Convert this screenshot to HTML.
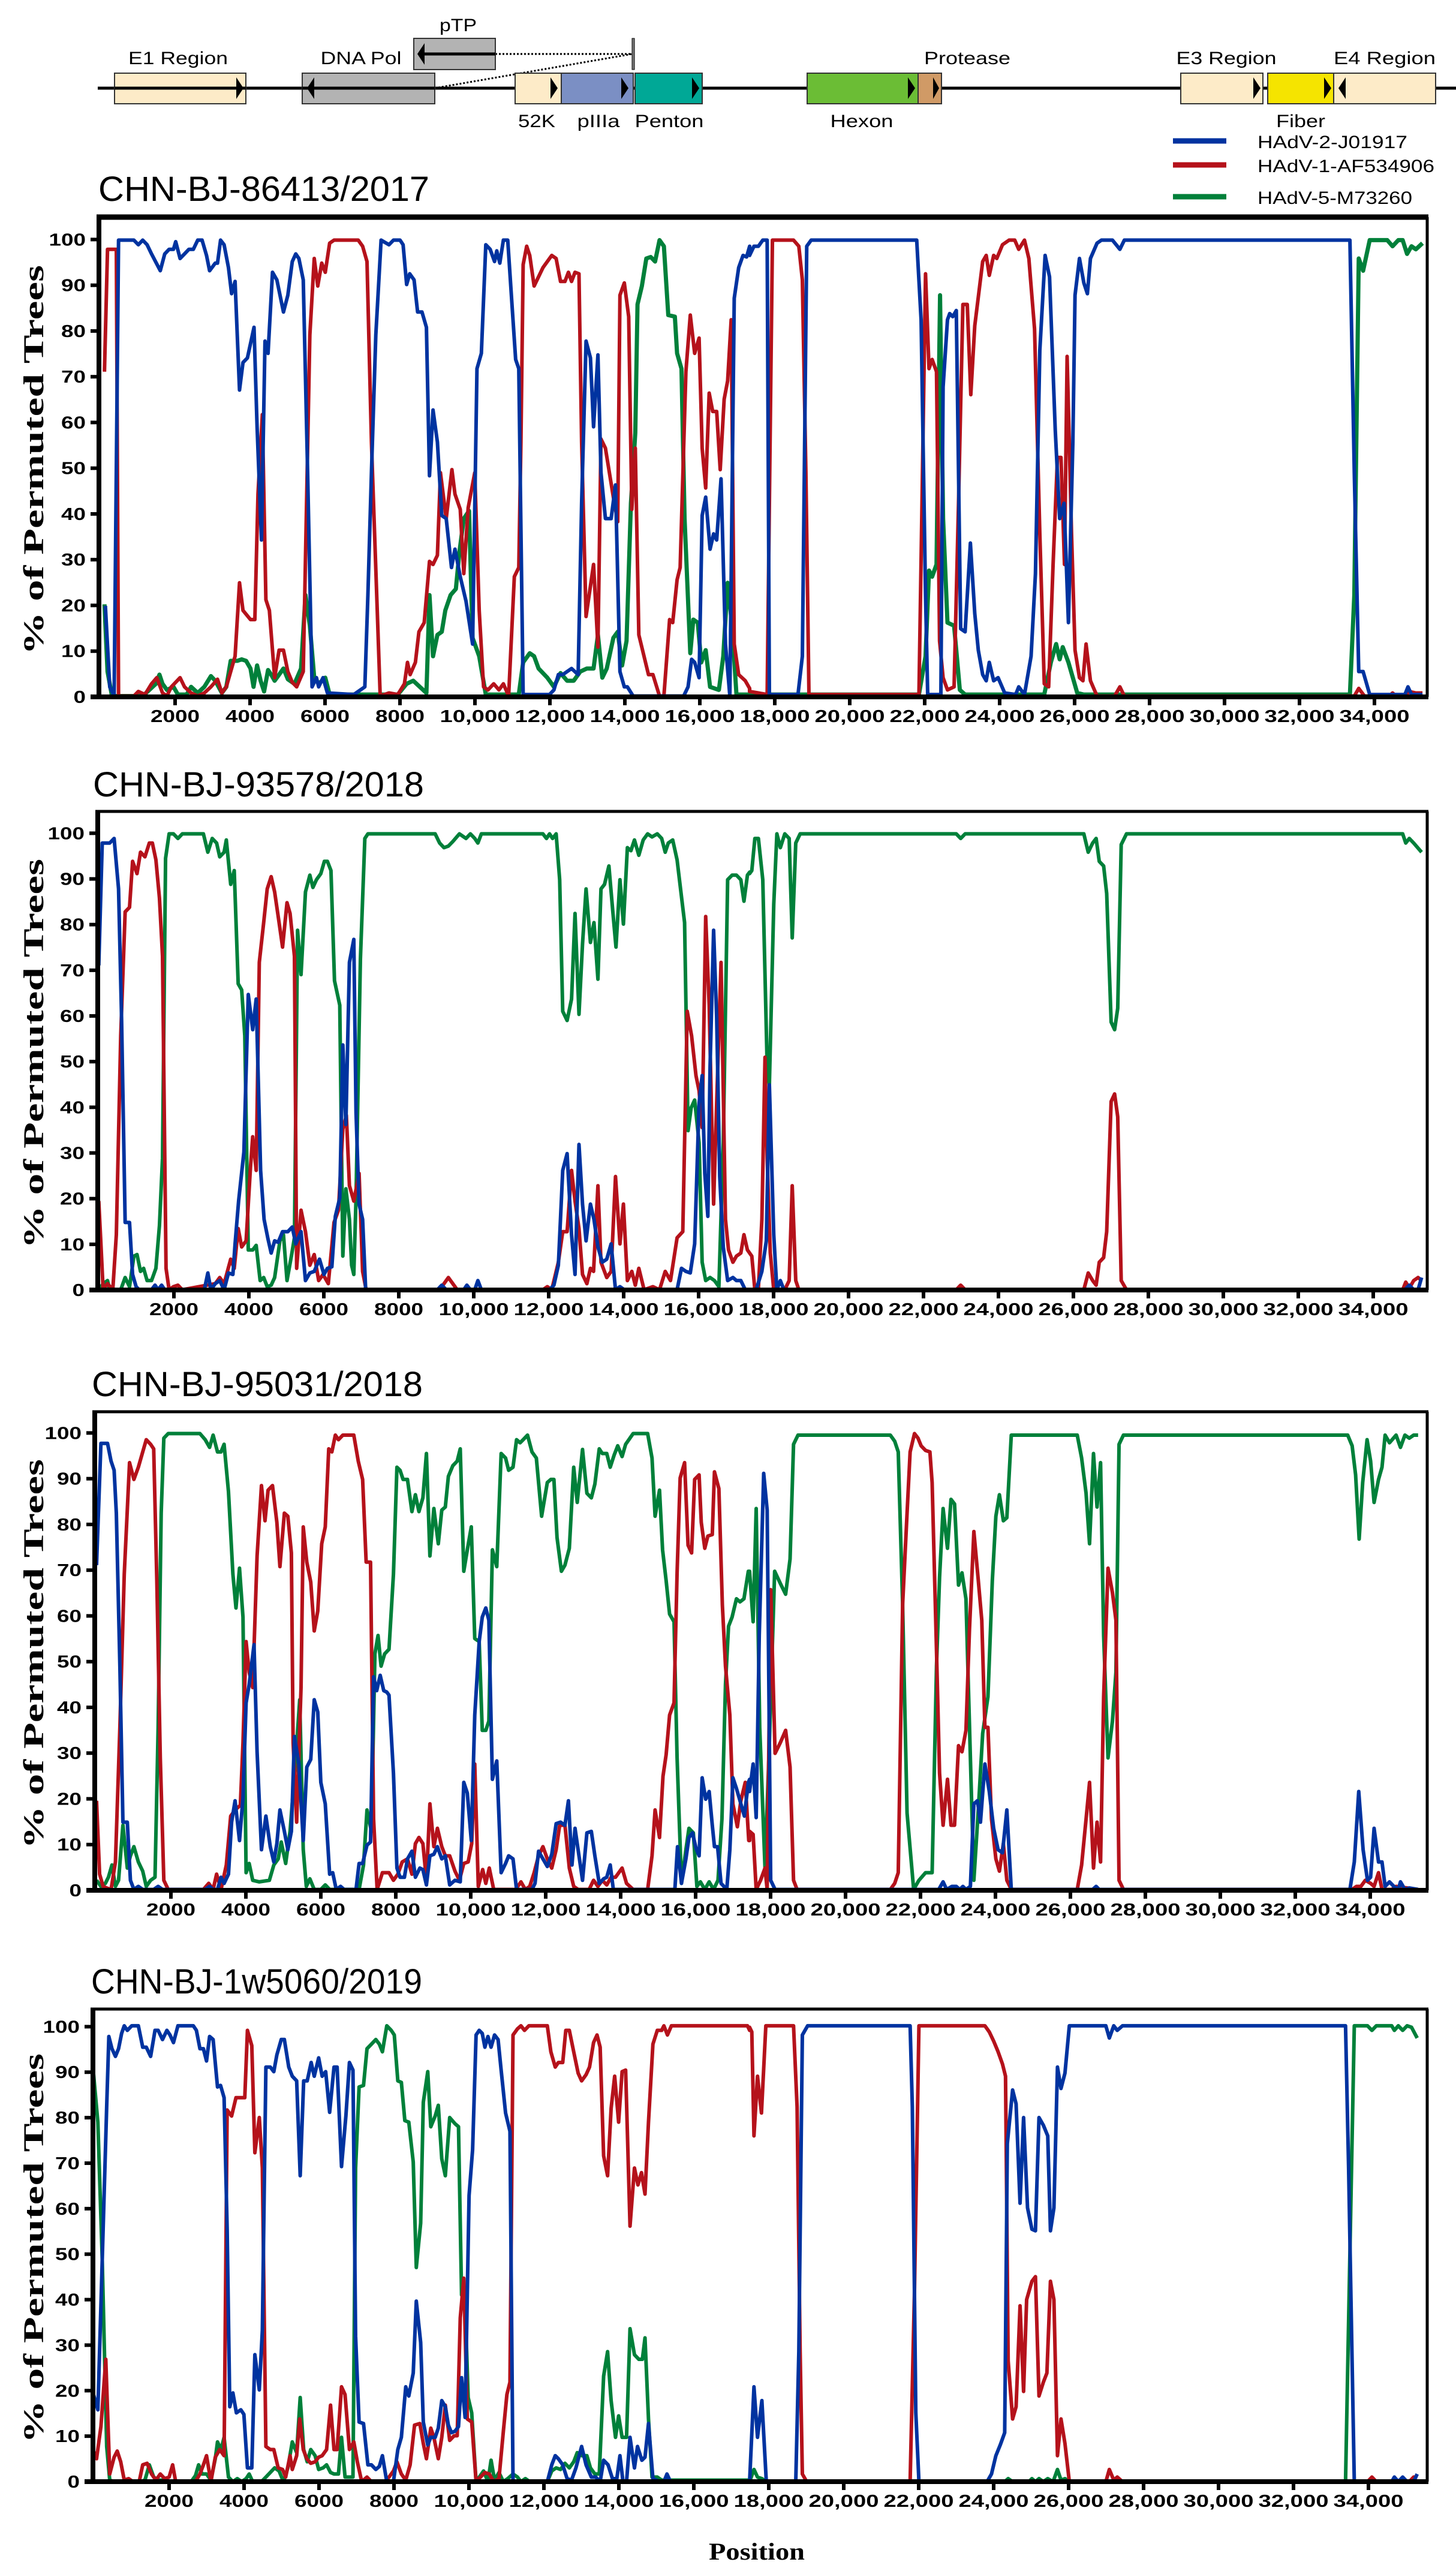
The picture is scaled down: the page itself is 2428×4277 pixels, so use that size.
<!DOCTYPE html>
<html><head><meta charset="utf-8"><style>
html,body{margin:0;padding:0;background:#fff;}
svg{display:block;}
</style></head><body>
<svg id="s" xmlns="http://www.w3.org/2000/svg" width="2428" height="4277" viewBox="0 0 2428 4277">
<rect width="2428" height="4277" fill="#fff"/>
<g font-family="Liberation Sans, Arial, sans-serif" font-size="30" fill="#000">
<line x1="163" y1="147" x2="2428" y2="147" stroke="#000" stroke-width="5"/>
<line x1="725" y1="147" x2="1054" y2="90" stroke="#000" stroke-width="3" stroke-dasharray="3,3"/>
<line x1="826" y1="90" x2="1054" y2="90" stroke="#000" stroke-width="3" stroke-dasharray="3,3"/>
<rect x="1054" y="64" width="4" height="52" fill="#777" stroke="#000" stroke-width="1"/>
<g stroke="#333" stroke-width="2">
<rect x="191" y="122" width="219" height="51" fill="#fdebc8"/>
<rect x="504" y="122" width="221" height="51" fill="#b3b3b3"/>
<rect x="690" y="64" width="136" height="52" fill="#b3b3b3"/>
<rect x="859" y="122" width="77" height="51" fill="#fdebc8"/>
<rect x="936" y="122" width="120" height="51" fill="#7b8fc4"/>
<rect x="1059" y="122" width="112" height="51" fill="#00a896"/>
<rect x="1346" y="122" width="185" height="51" fill="#6bbd35"/>
<rect x="1531" y="122" width="39" height="51" fill="#d09a66"/>
<rect x="1969" y="122" width="137" height="51" fill="#fdebc8"/>
<rect x="2114" y="122" width="110" height="51" fill="#f5e400"/>
<rect x="2224" y="122" width="170" height="51" fill="#fdebc8"/>
</g>
<line x1="191" y1="147" x2="410" y2="147" stroke="#000" stroke-width="5"/>
<line x1="504" y1="147" x2="725" y2="147" stroke="#000" stroke-width="5"/>
<line x1="700" y1="90" x2="826" y2="90" stroke="#000" stroke-width="5"/>
<g fill="#000">
<polygon points="394,129 406,147 394,165"/>
<polygon points="524,129 512,147 524,165"/>
<polygon points="708,72 696,90 708,108"/>
<polygon points="918,129 930,147 918,165"/>
<polygon points="1036,129 1048,147 1036,165"/>
<polygon points="1154,129 1166,147 1154,165"/>
<polygon points="1514,129 1526,147 1514,165"/>
<polygon points="1556,129 1566,147 1556,165"/>
<polygon points="2090,129 2102,147 2090,165"/>
<polygon points="2208,129 2220,147 2208,165"/>
<polygon points="2244,129 2232,147 2244,165"/>
</g>
<text x="297" y="107" text-anchor="middle" textLength="166" lengthAdjust="spacingAndGlyphs">E1 Region</text>
<text x="602" y="107" text-anchor="middle" textLength="135" lengthAdjust="spacingAndGlyphs">DNA Pol</text>
<text x="764" y="52" text-anchor="middle" textLength="62" lengthAdjust="spacingAndGlyphs">pTP</text>
<text x="1613" y="107" text-anchor="middle" textLength="144" lengthAdjust="spacingAndGlyphs">Protease</text>
<text x="2045" y="107" text-anchor="middle" textLength="167" lengthAdjust="spacingAndGlyphs">E3 Region</text>
<text x="2309" y="107" text-anchor="middle" textLength="170" lengthAdjust="spacingAndGlyphs">E4 Region</text>
<text x="895" y="212" text-anchor="middle" textLength="62" lengthAdjust="spacingAndGlyphs">52K</text>
<text x="998" y="212" text-anchor="middle" textLength="71" lengthAdjust="spacingAndGlyphs">pIIIa</text>
<text x="1116" y="212" text-anchor="middle" textLength="115" lengthAdjust="spacingAndGlyphs">Penton</text>
<text x="1437" y="212" text-anchor="middle" textLength="105" lengthAdjust="spacingAndGlyphs">Hexon</text>
<text x="2169" y="212" text-anchor="middle" textLength="82" lengthAdjust="spacingAndGlyphs">Fiber</text>
<line x1="1956" y1="235" x2="2045" y2="235" stroke="#0033a0" stroke-width="9"/>
<line x1="1956" y1="275" x2="2045" y2="275" stroke="#b5121b" stroke-width="9"/>
<line x1="1956" y1="328" x2="2045" y2="328" stroke="#00803a" stroke-width="9"/>
<text x="2097" y="247" textLength="250" lengthAdjust="spacingAndGlyphs">HAdV-2-J01917</text>
<text x="2097" y="287" textLength="295" lengthAdjust="spacingAndGlyphs">HAdV-1-AF534906</text>
<text x="2097" y="340" textLength="258" lengthAdjust="spacingAndGlyphs">HAdV-5-M73260</text>
</g>
<g id="panels"></g>
<text x="1262" y="4268" text-anchor="middle" font-family="Liberation Serif, serif" font-weight="bold" font-size="40" textLength="160" lengthAdjust="spacingAndGlyphs">Position</text>
</svg>
<script>
var D=[
{oy:380,top:362,zero:1162,ax:165,title:"CHN-BJ-86413/2017",ty:335,tx:164,thick:9,
b:["35,1235 45,1500 55,1530 65,40 100,40 110,55 120,40 130,55 140,85 160,140 170,85 180,70 190,70 195,45 205,100 215,85 225,70 235,70 245,40 255,40 265,90 272,140 285,115 290,115 297,40 305,55 315,130 322,215 330,175 340,530 348,440 358,425 373,325 380,650 390,1020 398,370 405,410 415,145 425,170 440,275 450,220 460,110 468,85 475,100 485,170 495,800 505,1500 515,1470 520,1500 530,1470 540,1520 600,1525 625,1500 632,1200 640,800 650,350 662,40 680,55 690,40 705,40 712,55 720,185 727,150 737,170 745,275 755,275 765,325 772,810 780,595 790,700 800,940 810,950 822,1110 830,1050 842,1140 855,1220 870,1360 880,460 890,410 900,55 910,70 920,110 925,75 932,115 940,40 950,40 960,260 968,430 975,460 985,1525 1045,1525 1055,1510 1065,1460 1075,1460 1085,1450 1095,1440 1110,1460 1118,900 1128,370 1138,425 1145,650 1155,415 1162,800 1172,950 1185,950 1195,840 1205,1450 1215,1500 1222,1500 1235,1530 1350,1530 1360,1500 1368,1410 1375,1420 1385,1470 1392,940 1400,880 1410,1050 1418,1000 1425,1020 1435,820 1445,1360 1455,1530 1465,230 1475,130 1485,90 1493,95 1500,60",
"0,90 10,60 20,60 30,40 40,40 45,1525 110,1525 120,1400 130,60 140,40 380,40 390,300 400,1200 405,1525 435,1525 440,520 450,300 455,280 462,290 470,270 480,1310 490,1320 502,1030 512,1260 520,1380 530,1460 538,1480 545,1420 555,1480 565,1470 580,1520 605,1525 612,1500 625,1525 640,1400 650,1130 660,400 672,90 682,160 695,660 705,950 715,900 725,1290 735,700 740,220 750,100 760,180 768,215 775,100 790,50 800,40 825,40 842,70 852,40 1365,40 1375,800 1385,1450 1395,1450 1410,1525 1490,1525 1497,1500 1505,1525 1530,1525"],
r:["33,470 40,70 60,70 65,1530 100,1530 110,1515 125,1525 140,1490 152,1470 165,1520 175,1530 185,1500 205,1470 215,1500 230,1520 245,1530 260,1520 275,1500 290,1475 300,1520 310,1500 330,1400 340,1160 348,1250 365,1280 375,1280 382,870 392,610 400,1215 408,1250 420,1470 430,1380 440,1380 450,1450 460,1485 470,1500 485,1450 500,350 510,100 518,190 527,115 535,145 545,50 555,40 610,40 620,60 630,110 640,700 660,1530 680,1520 700,1525 715,1490 722,1420 728,1460 740,1420 748,1320 760,1290 772,1090 780,1100 790,1070 797,800 810,950 823,790 830,870 842,920 850,1130 860,915 875,800 885,1250 895,1500 905,1510 918,1490 930,1510 940,1490 952,1530 965,1140 975,1110 980,700 985,120 993,60 1000,90 1010,190 1030,130 1050,90 1060,100 1070,175 1080,175 1088,145 1095,175 1103,145 1112,150 1118,700 1128,1270 1145,1100 1155,1370 1162,690 1172,720 1190,880 1200,960 1205,220 1215,180 1225,290 1232,920 1240,720 1248,1330 1270,1460 1280,1460 1295,1530 1305,1530 1318,1280 1325,1290 1335,1150 1342,1110 1355,470 1365,285 1375,410 1385,360 1392,720 1400,850 1408,540 1416,600 1425,600 1433,790 1442,560 1450,500 1458,300 1465,1360 1475,1460 1490,1480 1500,1505",
"0,1515 20,1520 40,1525 52,40 100,40 112,60 120,170 128,800 135,1525 385,1525 392,900 400,150 408,460 415,430 425,470 432,1350 440,1470 450,1510 465,1500 475,900 485,250 495,250 503,545 512,320 530,110 538,90 545,155 555,90 562,100 575,55 590,40 603,40 612,70 625,40 635,100 648,330 660,1000 670,1490 680,1500 690,1100 700,750 708,750 716,1100 722,420 732,1000 740,1380 750,1470 758,1480 765,1360 775,1480 790,1530 830,1530 842,1500 852,1530 1375,1530 1385,1505 1398,1530 1455,1530 1462,1520 1470,1530 1490,1530 1500,1515 1515,1520 1530,1520"],
g:["33,1230 40,1450 50,1530 120,1530 135,1510 150,1490 158,1460 165,1490 175,1510 190,1500 200,1525 220,1525 230,1500 245,1520 260,1500 275,1465 285,1480 300,1520 310,1500 320,1415 335,1415 345,1410 355,1415 365,1440 372,1500 380,1430 388,1480 396,1515 405,1445 412,1460 420,1480 430,1460 440,1440 450,1475 465,1490 480,1440 490,1200 500,1300 510,1470 520,1490 535,1470 545,1525 700,1525 720,1490 735,1480 750,1500 765,1520 772,1200 780,1400 790,1330 800,1320 808,1250 820,1200 832,1180 840,1060 850,950 862,925 870,1340 885,1400 900,1525 975,1525 985,1420 1000,1390 1010,1400 1020,1440 1040,1470 1055,1500 1070,1455 1085,1480 1100,1480 1115,1450 1130,1440 1145,1440 1155,1330 1165,1470 1175,1440 1190,1340 1200,1320 1210,1430 1220,1350 1230,900 1240,670 1245,250 1255,190 1265,100 1275,95 1285,110 1295,40 1305,60 1315,285 1330,290 1335,410 1345,460 1352,950 1365,1390 1372,1280 1382,1290 1390,1420 1400,1380 1410,1500 1430,1510 1440,1400 1450,1160 1460,1300 1470,1525 1500,1525",
"0,1525 385,1525 400,1400 408,1120 415,1140 425,1100 433,220 440,950 450,1290 465,1300 478,1510 490,1525 670,1525 685,1420 697,1360 705,1410 712,1370 725,1420 745,1520 760,1525 1365,1525 1375,1200 1385,100 1395,140 1410,40 1450,40 1462,60 1475,40 1485,40 1495,85 1505,60 1515,70 1530,50"]},
{oy:1370,top:1353,zero:2151,ax:163,title:"CHN-BJ-93578/2018",ty:1328,tx:155,thick:5,
b:["20,470 28,70 45,70 55,55 65,220 72,650 80,1310 90,1310 97,1480 105,1520 112,1530 140,1530 148,1515 155,1530 163,1515 170,1530 260,1530 268,1475 275,1530 285,1510 295,1500 305,1530 315,1475 325,1480 330,1380 338,1240 350,1080 360,565 370,680 378,580 388,1140 396,1300 405,1365 412,1410 420,1370 428,1375 438,1340 450,1340 460,1325 468,1380 480,1340 490,1500 500,1475 510,1470 522,1430 532,1480 540,1460 550,1455 558,1290 568,1230 575,730 582,990 590,460 600,385 605,950 612,1250 620,1300 627,1530 790,1530 800,1515 810,1530 850,1530 857,1515 865,1530 875,1530 882,1500 890,1530 1045,1530 1055,1515 1065,1450 1075,1140 1085,1085 1095,1350 1103,1480 1112,1055 1120,1250 1128,1370 1138,1250 1146,1300 1155,1390 1165,1440 1175,1430 1185,1380 1195,1530 1205,1520 1215,1530 1335,1530 1345,1460 1355,1470 1365,1475 1375,1380 1385,920 1392,830 1398,1150 1405,1290 1410,800 1418,355 1425,640 1432,1160 1440,1390 1450,1500 1462,1490 1470,1500 1480,1500 1490,1530 1500,1530",
"0,1530 15,1530 28,1470 38,1370 45,860 55,1350 62,1530 70,1500 78,1530 1490,1530 1500,1515 1510,1530 1520,1530 1528,1490"],
r:["20,1240 25,1380 30,1530 40,1510 52,1530 60,1350 70,700 80,295 90,280 97,130 107,170 115,100 125,115 135,70 142,70 150,125 158,250 165,440 173,1460 180,1530 190,1520 200,1515 210,1530 285,1510 295,1490 305,1510 320,1430 328,1460 337,1330 345,1390 355,1370 365,1130 370,1030 378,1140 385,460 395,330 403,220 412,180 420,230 430,330 438,410 448,265 455,300 465,440 470,1460 480,1270 490,1340 500,1450 510,1415 520,1500 530,1480 542,1510 555,1310 565,1270 575,1005 583,960 590,1190 600,1240 612,1150 620,1470 628,1530 795,1530 815,1490 835,1530 1030,1530 1040,1520 1050,1530 1065,1440 1075,1340 1085,1340 1095,1140 1103,1240 1112,1330 1120,1480 1130,1510 1138,1460 1145,1470 1155,1190 1162,1440 1175,1490 1185,1470 1195,1160 1205,1380 1213,1250 1222,1500 1232,1470 1240,1515 1248,1460 1260,1530 1280,1520 1295,1530 1308,1470 1320,1500 1335,1360 1348,1340 1358,620 1368,700 1378,830 1385,880 1392,1000 1400,310 1408,600 1418,1250 1425,920 1435,460 1445,1300 1452,1400 1462,1440 1470,1420 1480,1410 1487,1350 1495,1400 1500,1410",
"0,1410 5,1420 12,1530 20,1525 28,1300 35,770 40,1100 47,1410 55,1530 80,1530 90,1500 97,1190 105,1500 112,1530 470,1530 480,1515 490,1530 760,1530 770,1475 780,1500 788,1515 795,1440 805,1425 812,1340 822,915 830,890 837,965 845,1500 857,1530 1485,1530 1492,1505 1500,1525 1510,1500 1520,1490 1528,1500"],
g:["20,1530 30,1510 40,1500 45,1530 70,1530 80,1490 90,1520 100,1420 107,1415 115,1470 122,1460 130,1500 140,1500 150,1460 158,1320 165,1100 172,120 180,40 190,40 200,55 210,40 258,40 268,100 278,55 288,70 295,115 305,100 310,60 320,205 328,160 337,530 345,550 352,700 360,1400 370,1400 378,1385 387,1500 395,1490 403,1520 412,1515 420,1490 432,1370 440,1350 448,1500 458,1420 465,1360 472,355 480,500 490,230 500,175 507,215 515,190 525,170 533,130 540,130 548,160 556,520 568,600 575,1420 582,1200 590,1300 595,1450 600,1480 605,1230 615,450 625,55 632,40 785,40 795,70 805,85 815,80 825,65 840,40 850,50 855,55 865,40 875,55 882,70 890,40 1030,40 1038,55 1045,40 1052,55 1060,40 1068,190 1075,620 1085,650 1095,580 1103,300 1112,630 1120,400 1128,220 1138,395 1146,330 1155,515 1162,220 1170,205 1180,145 1188,280 1196,410 1205,190 1213,335 1222,85 1230,95 1238,60 1248,110 1258,60 1268,40 1278,50 1290,40 1300,55 1308,100 1315,70 1325,60 1335,125 1345,245 1352,330 1360,1010 1367,935 1375,910 1385,1050 1392,1440 1400,1500 1410,1490 1420,1500 1430,1520 1440,1050 1450,190 1460,175 1470,175 1480,190 1487,260 1495,175 1500,165",
"0,170 5,160 12,55 20,55 30,190 40,800 45,860 55,270 62,40 70,85 80,40 90,55 97,380 105,70 115,40 470,40 480,55 490,40 760,40 770,100 780,70 788,55 795,130 805,145 812,235 822,655 830,680 837,610 845,75 857,40 1485,40 1492,70 1500,55 1510,70 1528,100"]},
{oy:2370,top:2354,zero:3152,ax:158,title:"CHN-BJ-95031/2018",ty:2328,tx:153,thick:5,
b:["15,470 25,72 40,72 48,130 55,160 60,300 68,800 75,1310 85,1310 92,1500 100,1530 110,1520 120,1530 145,1530 155,1520 165,1530 262,1530 272,1520 280,1530 290,1530 298,1490 305,1510 315,1480 322,1310 330,1240 340,1370 348,1230 355,920 362,860 373,730 380,1080 390,1400 400,1290 410,1390 418,1440 425,1380 432,1270 442,1340 450,1400 458,1340 465,1030 475,1120 485,1370 493,1130 502,1105 510,910 518,950 525,1180 535,1250 545,1480 552,1475 560,1530 570,1520 578,1530 605,1530 612,1445 620,1445 630,1385 638,1375 645,835 652,880 660,830 668,880 675,885 680,895 690,1150 698,1460 705,1490 715,1490 722,1430 732,1405 740,1490 750,1460 757,1465 765,1515 773,1420 782,1415 790,1390 800,1430 808,1420 818,1515 830,1500 842,1505 850,1180 858,1215 867,1370 875,960 885,720 892,640 900,610 907,650 915,1170 925,1110 935,1475 945,1445 952,1420 962,1430 970,1530 1005,1530 1012,1510 1020,1405 1030,1430 1040,1455 1050,1415 1060,1315 1070,1310 1080,1320 1088,1240 1096,1450 1103,1330 1112,1420 1120,1500 1130,1345 1140,1340 1148,1420 1158,1510 1168,1495 1175,1490 1183,1450 1190,1530 1330,1530 1336,1390 1345,1510 1355,1430 1362,1360 1370,1345 1378,1395 1385,1420 1392,1165 1400,1235 1408,1210 1415,1320 1420,1390 1427,1390 1435,1510 1448,1530 1455,1400 1462,1165 1470,1200 1478,1240 1488,1290 1497,1180 1500,1170",
"0,1210 8,1120 15,1295 22,700 32,170 40,290 48,1500 58,1530 430,1530 440,1505 448,1530 460,1520 470,1520 478,1530 485,1520 492,1530 502,1520 510,1250 518,1240 525,1310 535,1120 545,1210 555,1330 565,1400 575,1410 585,1270 595,1530 780,1530 788,1520 795,1530 1365,1530 1375,1440 1385,1210 1395,1400 1405,1500 1412,1490 1420,1330 1430,1440 1438,1440 1445,1520 1455,1505 1465,1520 1475,1530 1480,1505 1490,1530 1500,1525 1520,1530"],
r:["15,1240 22,1480 30,1520 38,1525 48,1530 58,1440 68,1000 78,500 90,135 100,190 110,150 120,100 128,60 138,75 145,90 152,520 160,1100 168,1500 178,1530 258,1530 270,1510 280,1530 288,1480 298,1530 310,1450 320,1290 330,1270 342,1255 348,1050 355,720 362,820 370,870 380,440 390,210 398,325 405,225 415,210 425,330 432,475 442,300 450,310 458,430 462,1050 470,1310 480,870 485,345 493,460 502,525 510,685 518,620 527,400 535,345 543,90 550,100 558,45 565,60 575,45 600,45 610,130 620,190 628,460 638,460 645,1300 653,1530 665,1475 680,1475 690,1500 700,1480 710,1440 722,1430 732,1480 740,1380 748,1360 757,1380 765,1500 773,1250 782,1390 790,1330 800,1390 808,1420 818,1420 830,1470 840,1500 850,1445 860,1440 868,1380 875,1120 883,1520 893,1465 900,1510 908,1460 918,1530 968,1530 980,1505 990,1530 1000,1520 1010,1475 1020,1420 1030,1390 1040,1430 1050,1460 1060,1400 1068,1320 1080,1320 1090,1460 1100,1520 1110,1530 1135,1530 1145,1500 1155,1520 1165,1500 1175,1515 1185,1490 1195,1490 1210,1460 1220,1510 1235,1530 1268,1530 1278,1420 1285,1270 1295,1360 1303,1160 1310,1090 1318,960 1328,920 1335,495 1342,185 1352,135 1360,405 1368,430 1375,190 1385,175 1390,330 1398,415 1405,375 1415,370 1420,165 1430,220 1438,600 1445,800 1455,960 1462,1250 1472,1325 1480,1240 1490,1180 1498,1370 1500,1370",
"0,1340 8,1350 15,1530 25,1500 35,1460 40,1530 48,550 58,1085 70,1050 82,1010 92,1130 100,1500 108,1530 320,1530 330,1510 338,1475 348,600 358,300 365,100 375,40 383,55 390,80 400,95 410,100 415,200 425,750 432,1150 440,1320 450,1170 458,1320 466,1320 475,1060 483,1080 492,1010 500,680 510,360 520,520 528,650 535,1000 542,1000 550,1300 560,1430 568,1470 577,1380 585,1500 595,1530 745,1530 755,1450 765,1300 773,1180 782,1460 790,1310 798,1440 805,900 815,480 825,560 833,650 840,1500 850,1530 1370,1530 1380,1520 1390,1520 1400,1500 1412,1510 1420,1520 1430,1475 1438,1530 1460,1530 1470,1520 1520,1530"],
g:["15,1500 25,1520 35,1510 42,1490 50,1450 58,1520 65,1500 75,1320 85,1460 92,1420 100,1390 110,1440 120,1470 128,1520 138,1500 148,1490 155,1000 162,300 168,55 178,40 250,40 262,60 272,85 280,45 290,100 298,100 305,75 315,230 325,500 332,610 340,480 348,640 355,1475 362,1445 370,1500 385,1505 408,1500 418,1450 428,1430 435,1375 445,1445 455,1340 468,1100 477,910 485,1400 492,1520 500,1495 510,1530 525,1530 535,1515 545,1530 612,1530 622,1450 630,1270 640,1340 648,760 655,700 662,800 670,760 680,745 690,500 698,150 705,160 712,190 722,190 732,295 740,240 748,295 757,250 765,105 773,440 782,285 792,400 800,290 808,280 815,180 825,145 835,130 842,90 850,490 858,420 867,345 875,710 885,720 892,1010 900,1010 907,980 915,420 925,475 935,105 945,120 952,160 962,150 970,60 978,70 985,60 995,45 1005,100 1015,120 1027,310 1040,200 1048,190 1055,190 1062,380 1072,490 1080,470 1090,415 1100,150 1108,265 1120,92 1130,235 1140,250 1148,205 1158,90 1165,105 1175,105 1183,150 1192,110 1200,80 1210,115 1218,75 1235,40 1268,40 1278,120 1285,310 1295,225 1302,420 1310,520 1318,630 1328,655 1335,1100 1345,1510 1355,1400 1362,1330 1372,1345 1380,1520 1388,1505 1398,1530 1408,1505 1418,1530 1428,1500 1437,1300 1445,860 1452,670 1460,640 1470,580 1478,590 1487,580 1497,490 1500,500",
"0,490 8,655 15,285 23,1000 35,1460 45,1050 57,490 70,530 82,565 92,450 100,75 110,45 320,45 330,65 338,100 348,600 358,1280 373,1530 385,1500 400,1475 415,1475 425,800 432,510 440,285 450,415 458,255 466,270 475,535 483,495 492,580 502,1100 510,1500 520,1270 530,1020 542,900 552,520 560,310 568,240 577,325 585,315 595,45 745,45 755,120 765,235 773,400 782,105 790,280 798,135 805,700 815,1100 825,980 833,820 840,75 850,45 1360,45 1370,80 1378,175 1386,385 1394,200 1404,60 1412,130 1420,265 1430,190 1438,150 1445,45 1455,70 1470,45 1480,85 1490,45 1500,55 1510,45 1520,45"]},
{oy:3360,top:3350,zero:4138,ax:155,title:"CHN-BJ-1w5060/2019",ty:3324,tx:152,thick:5,
b:["8,1240 18,1290 28,800 38,300 43,70 50,110 58,135 65,110 72,60 78,35 85,50 95,35 110,35 120,105 128,105 138,135 148,50 155,50 165,80 175,50 182,65 190,90 200,35 235,35 242,50 250,110 258,110 265,150 272,70 280,80 290,235 297,230 305,270 312,700 318,1280 325,1235 333,1300 343,1290 350,1305 358,1480 368,1480 375,1110 385,1225 392,1030 400,170 410,170 418,185 425,130 435,80 442,80 452,170 460,200 470,215 478,525 486,215 494,215 503,155 510,200 520,140 528,200 536,185 545,318 555,170 562,170 572,495 582,330 590,155 598,180 604,1050 612,1330 622,1335 632,1470 640,1470 650,1485 658,1475 665,1440 675,1525 690,1525 700,1420 708,1380 718,1215 725,1245 735,1170 742,935 752,1070 758,1330 768,1405 775,1380 785,1380 792,1350 800,1260 808,1280 815,1340 822,1365 830,1360 838,1345 845,1185 853,1315 862,590 870,440 878,65 885,50 892,60 898,105 905,70 912,105 920,65 928,80 935,180 945,320 955,380 962,1525 1040,1525 1050,1470 1058,1440 1065,1450 1075,1470 1085,1515 1095,1520 1105,1480 1118,1410 1128,1470 1140,1510 1150,1510 1160,1525 1168,1455 1178,1470 1188,1515 1198,1515 1205,1440 1212,1525 1220,1525 1228,1380 1238,1480 1245,1410 1255,1455 1262,1445 1270,1335 1280,1515 1295,1525 1305,1525 1312,1500 1320,1525 1500,1525",
"0,1525 10,1215 18,1380 28,1260 38,1525 105,1525 112,1100 120,65 132,35 365,35 370,300 378,1300 385,1525 540,1525 550,1500 560,1440 570,1405 580,1365 586,420 598,245 606,290 615,615 623,335 632,630 642,700 650,705 658,335 668,360 678,395 684,705 692,630 700,170 708,240 717,190 727,35 810,35 818,75 828,35 836,50 848,35 1355,35 1362,500 1375,1525 1460,1525 1466,1510 1475,1525 1485,1510 1495,1525 1510,1525 1518,1500"],
r:["8,1425 15,1450 25,1345 36,1125 45,1500 55,1445 62,1425 70,1460 78,1520 88,1515 98,1525 112,1525 120,1470 130,1465 140,1500 150,1520 160,1500 170,1515 180,1510 188,1470 195,1525 240,1525 250,1500 258,1470 265,1440 275,1525 285,1445 295,1420 305,1440 312,310 322,330 332,270 345,270 352,270 358,50 368,100 375,450 385,335 392,500 400,1410 410,1420 418,1420 428,1480 438,1485 445,1510 455,1440 460,1485 470,1440 477,1320 485,1420 493,1450 502,1465 512,1460 520,1445 528,1440 538,1420 547,1275 555,1420 562,1420 572,1215 580,1240 590,1420 600,1395 608,1460 618,1525 630,1510 640,1525 670,1525 680,1510 690,1490 698,1460 708,1500 718,1520 728,1470 738,1340 750,1335 758,1400 765,1450 775,1350 782,1380 792,1450 800,1380 808,1275 818,1390 828,1375 835,1375 842,990 850,860 858,1320 868,1330 878,1525 888,1510 898,1495 908,1500 918,1525 930,1515 940,1360 948,1240 955,1200 962,65 972,45 980,35 988,50 998,35 1040,35 1048,120 1058,170 1065,155 1075,155 1082,50 1090,50 1100,120 1110,190 1118,215 1128,195 1136,170 1145,90 1153,65 1160,105 1168,460 1177,525 1185,305 1193,200 1202,350 1210,185 1218,180 1228,690 1238,500 1246,555 1254,515 1262,585 1270,350 1280,95 1290,50 1300,50 1305,35 1313,65 1322,35 1495,35 1500,50",
"0,40 5,55 10,395 18,200 27,320 37,35 100,35 108,300 115,1100 120,1500 130,1525 365,1525 375,900 385,35 535,35 545,55 555,85 565,120 575,160 582,200 588,1130 598,1320 606,1280 615,950 623,1230 630,930 642,870 650,855 658,1245 668,1200 676,1170 684,870 692,930 700,1440 708,1320 717,1400 727,1525 810,1525 818,1485 828,1520 836,1510 848,1525 1405,1525 1415,1510 1425,1525 1500,1525 1510,1510 1518,1510"],
g:["8,190 18,350 28,800 38,1410 45,1520 55,1525 115,1525 125,1520 135,1470 145,1510 155,1520 165,1520 175,1525 230,1525 240,1505 247,1470 255,1500 265,1500 275,1520 285,1450 290,1395 298,1420 305,1380 315,1510 325,1525 335,1515 345,1525 355,1515 362,1500 370,1525 390,1525 400,1510 420,1480 430,1490 440,1525 450,1480 460,1395 470,1430 478,1250 486,1420 494,1460 502,1420 512,1440 520,1485 530,1480 538,1470 547,1495 555,1500 565,1500 572,1380 580,1510 598,1510 604,500 612,235 622,230 630,110 640,95 650,80 658,95 665,120 675,35 685,50 692,65 700,215 708,220 716,345 725,350 735,480 742,825 752,680 758,285 768,185 775,365 785,330 792,295 800,470 808,525 818,335 830,355 838,365 845,915 852,900 860,1250 868,1300 878,1525 895,1490 905,1525 912,1455 920,1520 930,1495 940,1525 950,1515 962,1500 972,1510 980,1525 990,1515 1000,1525 1040,1525 1050,1490 1060,1480 1070,1485 1080,1465 1090,1480 1100,1460 1108,1430 1118,1440 1130,1440 1138,1480 1148,1500 1158,1500 1168,1180 1177,1100 1185,1260 1195,1380 1202,1310 1210,1380 1220,1380 1228,1025 1238,1110 1248,1125 1256,1125 1262,1055 1270,1320 1278,1510 1290,1510 1300,1520 1500,1520",
"0,1525 10,1485 18,1510 28,1515 38,1525 580,1525 588,1515 598,1525 635,1525 642,1515 650,1525 658,1515 668,1525 678,1515 690,1525 700,1485 708,1520 717,1515 727,1525 1355,1525 1362,1000 1375,35 1405,35 1415,50 1425,35 1460,35 1466,50 1475,35 1485,50 1495,35 1505,40 1518,75"]}
];
var NS="http://www.w3.org/2000/svg",G=document.getElementById("panels");
function el(t,a,txt){var e=document.createElementNS(NS,t);for(var k in a)e.setAttribute(k,a[k]);if(txt!=null)e.textContent=txt;G.appendChild(e);return e;}
var R=2380,COL={b:"#0033a0",r:"#b5121b",g:"#00803a"};
D.forEach(function(p){
  var y100=p.oy+38/1.96; var unit=(p.zero-y100)/100;
  el("text",{x:p.tx,y:p.ty,"font-family":"Liberation Sans, Arial, sans-serif","font-size":58,textLength:552,lengthAdjust:"spacingAndGlyphs"},p.title);
  ["g","r","b"].forEach(function(k){
    var pts=[];
    var L=p[k][0].split(" "),Rr=p[k][1].split(" ");
    L.forEach(function(s){var a=s.split(",");var zx=+a[0],zy=+a[1];if(zx>1500)return;pts.push((150+zx/1.3635).toFixed(1)+","+(p.oy+zy/1.96).toFixed(1));});
    Rr.forEach(function(s){var a=s.split(",");var zx=+a[0],zy=+a[1];var x=1250+zx/1.3635;if(x>R-3)x=R-3;pts.push(x.toFixed(1)+","+(p.oy+zy/1.96).toFixed(1));});
    el("polyline",{points:pts.join(" "),fill:"none",stroke:COL[k],"stroke-width":k=="g"&&p.thick>5?7:6,"stroke-linejoin":"round"});
  });
  el("line",{x1:p.ax-4,y1:p.top,x2:R+2,y2:p.top,stroke:"#000","stroke-width":p.thick});
  el("line",{x1:R,y1:p.top,x2:R,y2:p.zero,stroke:"#000","stroke-width":5});
  el("line",{x1:p.ax,y1:p.top-p.thick/2,x2:p.ax,y2:p.zero+4,stroke:"#000","stroke-width":8});
  el("line",{x1:p.ax-14,y1:p.zero,x2:R+2,y2:p.zero,stroke:"#000","stroke-width":8});
  for(var v=0;v<=100;v+=10){
    var y=p.zero-v*unit;
    el("line",{x1:p.ax-14,y1:y,x2:p.ax,y2:y,stroke:"#000","stroke-width":6});
    var s=String(v);
    el("text",{x:p.ax-22,y:y+10,"text-anchor":"end","font-family":"Liberation Sans, Arial, sans-serif","font-weight":"bold","font-size":29,textLength:(s.length*20.5),lengthAdjust:"spacingAndGlyphs"},s);
  }
  var x0=p.ax+2;
  for(var k2=2;k2<=34;k2+=2){
    var x=x0+k2*62.5;
    el("line",{x1:x,y1:p.zero,x2:x,y2:p.zero+14,stroke:"#000","stroke-width":6});
    var lab=k2<10?(k2*1000)+"":k2+",000";
    var w=lab.length==4?82:(lab.length*19.5);
    el("text",{x:x,y:p.zero+42,"text-anchor":"middle","font-family":"Liberation Sans, Arial, sans-serif","font-weight":"bold","font-size":29,textLength:w,lengthAdjust:"spacingAndGlyphs"},lab);
  }
  var cy=(p.top+p.zero)/2+5;
  el("text",{x:0,y:0,transform:"translate(72,"+cy+") rotate(-90)","text-anchor":"middle","font-family":"Liberation Serif, serif","font-weight":"bold","font-size":48,textLength:650,lengthAdjust:"spacingAndGlyphs"},"% of Permuted Trees");
});
</script>
</body></html>
